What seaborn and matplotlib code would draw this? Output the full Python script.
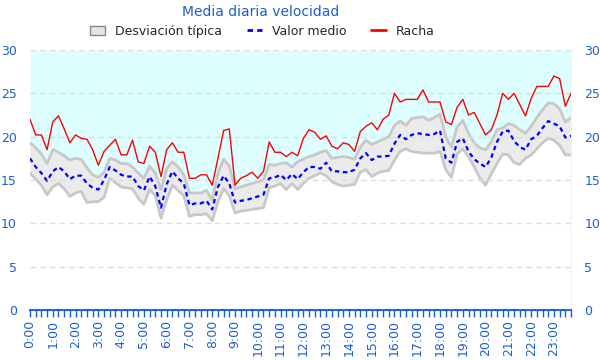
import matplotlib
matplotlib.use("Agg")
import matplotlib.pyplot as plt
import seaborn as sns
import numpy as np
import pandas as pd
from matplotlib.patches import Patch
from matplotlib.lines import Line2D

# 15-minute samples, 0:00 .. 23:45
times = [f"{h}:{m:02d}" for h in range(24) for m in (0, 15, 30, 45)]

racha = [22.0, 20.2, 20.2, 18.5, 21.7, 22.4, 20.9, 19.3, 20.2, 19.8,
         19.7, 18.5, 16.7, 18.3, 19.0, 19.7, 17.9, 17.9, 19.6, 17.1,
         16.9, 18.9, 18.2, 15.4, 18.5, 19.3, 18.2, 18.2, 15.2, 15.2,
         15.6, 15.6, 14.4, 17.5, 20.7, 20.9, 14.4, 15.2, 15.5, 15.9,
         15.2, 16.0, 19.4, 18.2, 18.2, 17.7, 18.2, 17.8, 19.8, 20.8,
         20.5, 19.7, 20.1, 18.9, 18.6, 19.3, 19.1, 18.3, 20.6, 21.2,
         21.6, 20.8, 22.0, 22.5, 25.0, 24.0, 24.3, 24.3, 24.3, 25.4,
         24.0, 24.0, 24.0, 21.7, 21.4, 23.4, 24.3, 22.5, 22.8, 21.5,
         20.2, 20.8, 22.5, 25.0, 24.3, 25.0, 23.7, 22.4, 24.4, 25.8,
         25.8, 25.8, 27.0, 26.7, 23.5, 25.0]

media = [17.5, 16.5, 15.8, 14.9, 16.0, 16.5, 16.0, 15.1, 15.5, 15.5,
         14.6, 14.1, 13.9, 15.0, 16.5, 16.1, 15.6, 15.4, 15.4, 14.3,
         13.8, 15.4, 14.3, 11.8, 14.5, 16.0, 15.2, 14.6, 12.1, 12.3,
         12.3, 12.6, 11.6, 14.2, 15.5, 14.6, 12.4, 12.6, 12.7, 12.9,
         13.1, 13.3, 15.2, 15.3, 15.6, 15.0, 15.7, 15.1, 15.9, 16.5,
         16.5, 16.3, 17.0, 16.0, 16.0, 15.9, 15.9, 16.2, 17.5, 18.1,
         17.3, 17.7, 17.7, 17.8, 19.2, 20.2, 19.7, 20.2, 20.4, 20.3,
         20.2, 20.3, 20.7, 17.5, 17.0, 19.4, 19.8, 18.3, 17.4, 16.9,
         16.5, 17.6, 19.4, 20.6, 20.7, 19.5, 18.8, 18.5, 19.7, 20.1,
         21.0, 21.8, 21.5, 21.2, 19.9, 20.1]

superior = [19.3, 18.7, 18.0, 16.9, 18.5, 18.2, 17.8, 17.3, 17.5, 17.4,
            16.4, 15.6, 15.3, 15.9, 17.5, 17.3, 16.9, 16.9, 16.5, 15.8,
            15.2, 16.6, 15.8, 13.9, 16.3, 17.1, 16.5, 15.6, 13.5, 13.5,
            13.5, 13.8, 12.7, 15.8, 17.4, 16.6, 14.0, 14.2, 14.4, 14.6,
            14.8, 15.0, 16.8, 16.7, 16.9, 17.0, 16.5, 17.1, 17.4, 17.7,
            17.9, 18.2, 18.4, 17.5, 17.6, 17.7, 17.6, 17.4, 18.8, 19.6,
            19.1, 19.4, 19.7, 20.0, 21.3, 21.8, 21.3, 22.1, 22.2, 22.3,
            21.9, 22.2, 22.6, 20.0, 18.8, 21.1, 21.9, 20.4, 19.3, 18.7,
            18.5, 19.4, 20.8, 21.0, 21.5, 21.3, 20.8, 20.4, 21.2, 22.2,
            23.1, 23.9, 23.8, 23.2, 21.7, 22.2]

inferior = [15.8, 15.1, 14.4, 13.3, 14.2, 14.6, 14.0, 13.1, 13.5, 13.7,
            12.4, 12.5, 12.5, 13.0, 15.2, 14.7, 14.2, 14.1, 14.0, 12.9,
            12.2, 13.9, 13.2, 10.6, 12.7, 14.4, 13.8, 13.2, 10.8, 11.0,
            11.0, 11.1, 10.3, 12.5, 14.0, 13.2, 11.2, 11.4, 11.5, 11.6,
            11.7, 11.8, 14.1, 14.3, 14.6, 13.9, 14.6, 13.9, 14.6, 15.2,
            15.5, 15.8, 15.5, 14.8, 14.5, 14.3, 14.4, 14.5, 15.9, 16.2,
            15.4, 15.8, 16.0, 16.1, 17.3, 18.3, 18.6, 18.3, 18.2, 18.1,
            18.1, 18.1, 18.3, 16.2, 15.3, 18.0, 18.6, 17.7, 16.5, 15.2,
            14.4, 15.7, 16.9, 18.0, 17.9, 17.0, 16.8, 17.5, 17.9, 18.6,
            19.3, 19.8, 19.6, 19.0, 17.9, 17.9]

yticks = [0, 5, 10, 15, 20, 25, 30]

df = pd.DataFrame({"t": np.arange(len(times)), "racha": racha, "media": media,
                   "sup": superior, "inf": inferior})

BLUE_TXT = "#1a5fd0"

sns.set_style("white")
plt.rcParams['font.family'] = ['DejaVu Sans']

fig = plt.figure(figsize=(6, 3.6), dpi=100)
ax = fig.add_axes([0.05, 0.1389, 0.9017, 0.7222])

# cyan area above the band
ax.fill_between(df["t"], df["sup"], 30, color="#ddffff", lw=0, zorder=1)
# band
ax.fill_between(df["t"], df["inf"], df["sup"], color="#ebebeb", lw=0, zorder=1)
ax.plot(df["t"], df["sup"], color="#c8c8c8", lw=2, zorder=2)
ax.plot(df["t"], df["inf"], color="#c8c8c8", lw=2, zorder=2)

sns.lineplot(data=df, x="t", y="racha", ax=ax, color="red", lw=1, zorder=4)
sns.lineplot(data=df, x="t", y="media", ax=ax, color="blue", lw=1.6,
             linestyle=(0, (2.0, 1.6)), zorder=4)

ax.set_xlim(0, len(times) - 1)
ax.set_ylim(0, 30)
ax.set_xlabel("")
ax.set_ylabel("")

ax.set_yticks(yticks)
ax.set_yticklabels([str(v) for v in yticks])
ax.yaxis.grid(True, color="#dddddd", linestyle=(0, (4, 3)), lw=1, zorder=1.5)
ax.xaxis.grid(False)
ax.set_axisbelow(False)
for gl in ax.get_ygridlines():
    gl.set_zorder(1.5)

xt = list(range(len(times)))
xl = [times[i] if i % 4 == 0 else "" for i in xt]
ax.set_xticks(xt)
ax.set_xticklabels(xl, rotation=90)
ax.tick_params(axis="x", bottom=True, direction="out", length=5, width=1,
               colors=BLUE_TXT, labelsize=9, pad=2)
ax.tick_params(axis="y", left=False, right=False, labelleft=True,
               labelright=True, labelsize=9, colors=BLUE_TXT, pad=6)

for s in ["top", "left"]:
    ax.spines[s].set_visible(False)
ax.spines["right"].set_visible(True)
ax.spines["right"].set_color("#eef8f8")
ax.spines["right"].set_linewidth(1)
ax.spines["bottom"].set_color(BLUE_TXT)
ax.spines["bottom"].set_linewidth(1.5)

fig.text(0.435, 0.968, "Media diaria velocidad", ha="center", va="center",
         color=BLUE_TXT, fontsize=10)

handles = [Patch(facecolor="#e4e4e4", edgecolor="#888888", lw=1),
           Line2D([], [], color="blue", lw=2, linestyle=(0, (2, 1.5))),
           Line2D([], [], color="red", lw=2)]
labels = ["Desviación típica", "Valor medio", "Racha"]
fig.legend(handles, labels, loc="center", bbox_to_anchor=(0.437, 0.913),
           ncol=3, frameon=False, fontsize=9, handlelength=1.2,
           handletextpad=0.8, columnspacing=2.0)

fig.savefig("out.png", dpi=100)
